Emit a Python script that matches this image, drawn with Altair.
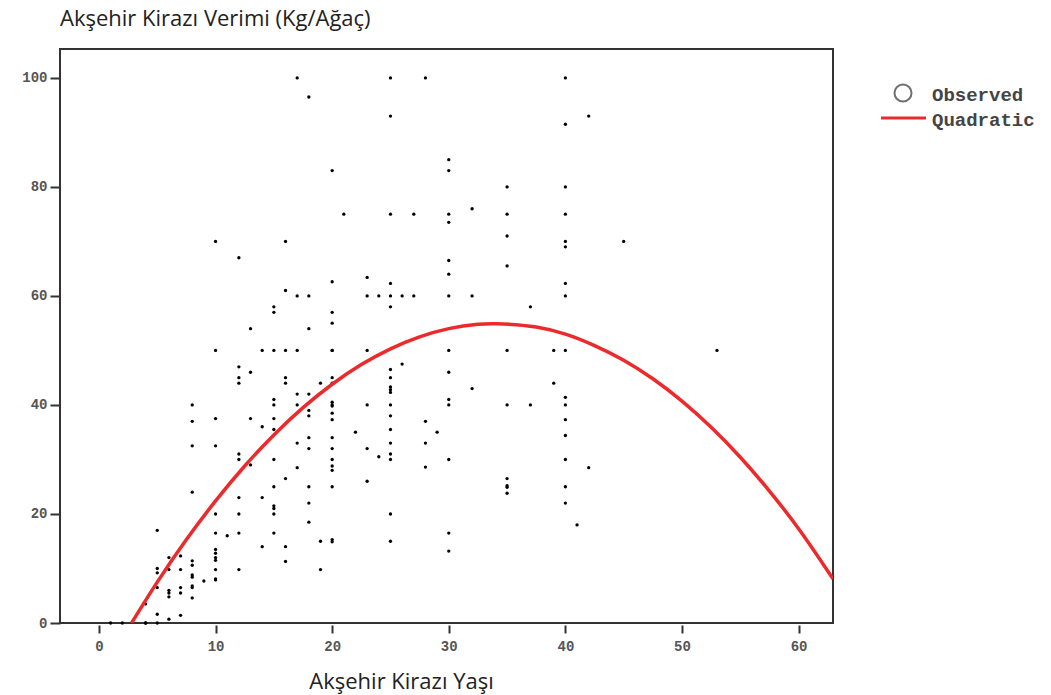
import altair as alt
import pandas as pd

# Observed points (age, yield)
ages = [1, 2, 4, 4, 5,
        4, 5, 6, 7,
        5, 6, 6, 6, 7, 7, 8, 8, 8,
        9, 10, 10,
        5, 5, 6, 7, 10, 12, 19,
        6, 7, 8, 8, 8, 8,
        10, 10, 10, 10, 16,
        14, 16, 19, 20, 20, 25, 30, 30,
        5, 10, 12, 15, 11,
        18, 41,
        10, 12, 15, 25,
        15, 15, 18, 40,
        12, 14, 8, 35,
        15, 18, 20, 40, 35, 35,
        16, 23, 35,
        17, 20, 20, 28, 42,
        13, 12, 15, 20, 25, 30, 40, 24,
        12, 25,
        8, 10, 18, 20, 23,
        17, 25, 28,
        18, 20, 40,
        15, 25, 29, 22,
        14, 8, 28, 40, 20,
        10, 13, 15,
        18, 18, 20, 25,
        8, 15, 17, 20, 20, 20, 23, 25, 30, 35, 37, 40,
        15, 30, 40,
        17, 18, 25, 25, 25, 32,
        12, 16, 19, 20, 39,
        12, 16, 20, 25,
        13, 30, 25, 12, 26,
        10, 14, 15, 16, 17, 20, 20, 23, 30, 35, 39, 40, 53,
        13, 18, 20, 20, 15, 15, 25, 37,
        17, 18, 23, 24, 25, 26, 27, 30, 32, 40,
        16, 25, 20, 23, 40,
        30, 35, 30, 12,
        10, 16, 40, 40, 45, 35,
        30, 21, 25, 27, 30, 35, 40,
        32, 35, 40, 20, 30, 30,
        40, 42, 25, 18,
        17, 25, 28, 40]
yields = [0, 0, 0, 0, 0,
          3.5, 1.6, 0.7, 1.4,
          6.5, 6, 5.5, 4.8, 6.5, 5.5, 6.8, 6.5, 4.6,
          7.7, 8.1, 7.9,
          10, 9.2, 9.8, 9.8, 9.8, 9.8, 9.8,
          12, 12.3, 11.4, 10.6, 8.8, 8.4,
          13.5, 12.8, 12, 11.5, 11.3,
          14, 14, 15, 15.3, 14.9, 15, 13.2, 16.5,
          17, 16.5, 16.5, 16.5, 16,
          18.5, 18,
          20, 20, 20, 20,
          21.5, 21, 22, 22,
          23, 23, 24, 23.8,
          25, 25, 25, 25, 24.9, 25.2,
          26.5, 26, 26.5,
          28.5, 28.8, 28, 28.6, 28.5,
          29, 30, 30, 30, 30, 30, 30, 30.5,
          31, 31,
          32.5, 32.5, 32, 32, 32,
          33, 33, 33,
          34, 34, 34.4,
          35.5, 35.5, 35, 35,
          36, 37, 37, 37.3, 37.3,
          37.5, 37.5, 37.5,
          38, 39, 38.5, 38,
          40, 40, 40, 40.5, 40, 39.8, 40, 40, 40, 40, 40, 40,
          41, 41, 41.4,
          42, 42, 42.3, 42.8, 43.3, 43,
          44, 44, 44, 44, 44,
          45, 45, 45, 45,
          46, 46, 46.5, 47, 47.5,
          50, 50, 50, 50, 50, 50, 50, 50, 50, 50, 50, 50, 50,
          54, 54, 55, 57, 57, 58, 58, 58,
          60, 60, 60, 60, 60, 60, 60, 60, 60, 60,
          61, 62.3, 62.6, 63.4, 62.3,
          64, 65.5, 66.5, 67,
          70, 70, 70, 69, 70, 71,
          73.5, 75, 75, 75, 75, 75, 75,
          76, 80, 80, 83, 83, 85,
          91.5, 93, 93, 96.5,
          100, 100, 100, 100]

# Quadratic fit curve
curve_age = [2.8, 5, 7.5, 10, 12.5, 15, 17.5, 20, 22.5, 25, 27.5, 30, 32.5, 34.1,
             37.5, 40, 42.5, 45, 47.5, 50, 52.5, 55, 57.5, 60, 62.95]
curve_yield = [0, 7.5, 15.3, 22.4, 28.8, 34.5, 39.5, 43.8, 47.4, 50.3, 52.5, 54.0, 54.8, 54.9,
               54.3, 53.0, 50.9, 48.2, 44.8, 40.7, 35.9, 30.4, 24.2, 17.3, 8.1]

x_ticks = [0, 10, 20, 30, 40, 50, 60]
y_ticks = [0, 20, 40, 60, 80, 100]
legend_labels = ["Observed", "Quadratic"]

title_text = "Akşehir Kirazı Verimi (Kg/Ağaç)"
x_title = "Akşehir Kirazı Yaşı"

obs = pd.DataFrame({"age": ages, "yield": yields})
fit = pd.DataFrame({"age": curve_age, "yield": curve_yield})

RED = "#ec2a2c"
MONO = "Liberation Mono"
SANS = "Open Sans"

xscale = alt.Scale(domain=[-3.34, 62.95], nice=False, zero=False)
yscale = alt.Scale(domain=[0, 105.3], nice=False, zero=True)

xaxis = alt.Axis(values=x_ticks, grid=False, domain=False, tickSize=8, offset=2,
                 tickWidth=2, tickColor="#333", labelFont=MONO, labelFontSize=14,
                 labelFontWeight="bold", labelColor="#555", labelPadding=6,
                 title=x_title, titleFont=SANS, titleFontSize=22, titleFontWeight="normal",
                 titleColor="#222", titleX=341, titleY=56, titleBaseline="middle",
                 titleAlign="center")
yaxis = alt.Axis(values=y_ticks, grid=False, domain=False, tickSize=10,
                 tickWidth=2, tickColor="#333", labelFont=MONO, labelFontSize=14,
                 labelFontWeight="bold", labelColor="#555", labelPadding=3, title="")

points = alt.Chart(obs).mark_circle(size=11, color="black", opacity=1).encode(
    x=alt.X("age:Q", scale=xscale, axis=xaxis),
    y=alt.Y("yield:Q", scale=yscale, axis=yaxis),
)

line = alt.Chart(fit).mark_line(color=RED, strokeWidth=3.5, interpolate="catmull-rom", clip=True).encode(
    x=alt.X("age:Q", scale=xscale),
    y=alt.Y("yield:Q", scale=yscale),
)

one = alt.Data(values=[{"k": 0}])
leg_circle = alt.Chart(one).mark_point(shape="circle", size=290, filled=False,
                                       stroke="#333", strokeWidth=2).encode(
    x=alt.value(843), y=alt.value(44))
leg_line = alt.Chart(one).mark_rule(color=RED, strokeWidth=3).encode(
    x=alt.value(821), x2=alt.value(866), y=alt.value(69))
leg_t1 = alt.Chart(one).mark_text(text=legend_labels[0], align="left", baseline="middle",
                                  font=MONO, fontSize=19, fontWeight="bold", color="#444").encode(
    x=alt.value(872), y=alt.value(46))
leg_t2 = alt.Chart(one).mark_text(text=legend_labels[1], align="left", baseline="middle",
                                  font=MONO, fontSize=19, fontWeight="bold", color="#444").encode(
    x=alt.value(872), y=alt.value(71))

chart = alt.layer(points, line, leg_circle, leg_line, leg_t1, leg_t2).properties(
    width=773, height=574,
    autosize=alt.AutoSizeParams(type="none"),
    padding={"left": 60, "top": 49, "right": 218, "bottom": 72},
    title=alt.TitleParams(title_text, anchor="start", frame="group", font=SANS,
                          fontSize=22, fontWeight="normal", color="#222", offset=18),
    background="white",
).configure_view(stroke="#333", strokeWidth=2)

chart.save("out.html", embed_options={"renderer": "svg", "actions": False})
